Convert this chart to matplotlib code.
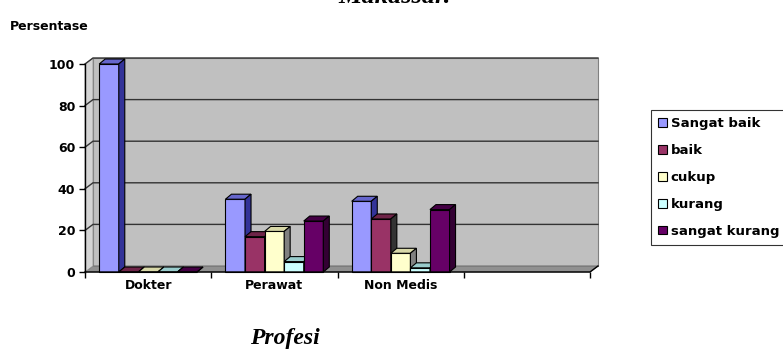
import numpy as np
import matplotlib
matplotlib.use("Agg")
import matplotlib.pyplot as plt
from matplotlib.patches import Polygon, Patch

# Data
kategori = ["Dokter", "Perawat", "Non Medis"]
seri = ["Sangat baik", "baik", "cukup", "kurang", "sangat kurang"]
sangat_baik = [100, 35, 34]
baik = [0, 17, 25.5]
cukup = [0, 19.5, 9]
kurang = [0, 5, 2]
sangat_kurang = [0, 24.5, 30]
nilai = [sangat_baik, baik, cukup, kurang, sangat_kurang]
yticks = [0, 20, 40, 60, 80, 100]

# Excel style colours: front, top, side
warna_depan = ["#9999FF", "#993366", "#FFFFCC", "#CCFFFF", "#660066"]
warna_atas = ["#6666CC", "#6E2448", "#D8D8A8", "#99CCCC", "#440044"]
warna_sisi = ["#333399", "#333333", "#808080", "#99CCCC", "#330033"]

W, H = 783, 349
plt.rcParams["font.family"] = ["DejaVu Sans"]
fig = plt.figure(figsize=(W / 100, H / 100), dpi=100)

# axis: x 0..4 -> px 85..590, y 0..100 -> px 272..64
px_x = (590 - 85) / 4.0
px_y = (272 - 64) / 100.0
dx, dy = 8 / px_x, 6 / px_y  # wall depth
bdx, bdy = 6 / px_x, 5 / px_y  # bar depth
ax = fig.add_axes([85 / W, 1 - 272 / H, (590 - 85) / W, (272 - 64) / H])
ax.set_xlim(0, 4)
ax.set_ylim(0, 100)
for s in ax.spines.values():
    s.set_visible(False)

# dinding belakang, lantai, dinding kiri
ax.add_patch(Polygon([(dx, dy), (4 + dx, dy), (4 + dx, 100 + dy), (dx, 100 + dy)],
                     closed=True, facecolor="#C0C0C0", edgecolor="#808080", lw=0.8,
                     clip_on=False, zorder=0))
ax.add_patch(Polygon([(0, 0), (4, 0), (4 + dx, dy), (dx, dy)], closed=True,
                     facecolor="#909090", edgecolor="#606060", lw=0.6,
                     clip_on=False, zorder=0.5))
ax.add_patch(Polygon([(0, 0), (dx, dy), (dx, 100 + dy), (0, 100)], closed=True,
                     facecolor="#D4D4D4", edgecolor="#909090", lw=0.6,
                     clip_on=False, zorder=0.5))
for v in yticks[1:]:
    ax.plot([0, dx, 4 + dx], [v, v + dy, v + dy], color="#333333", lw=1.0,
            clip_on=False, zorder=1)

# batang 3D
w = 0.155
for i in range(len(kategori)):
    for j in range(len(seri)):
        x0 = i + 0.5 - 2.5 * w + j * w
        h = nilai[j][i]
        z = 2 + i * 10 + j
        ax.bar(x0, h, width=w, align="edge", color=warna_depan[j],
               edgecolor="black", lw=0.8, zorder=z, clip_on=False)
        ax.add_patch(Polygon([(x0, h), (x0 + w, h), (x0 + w + bdx, h + bdy),
                              (x0 + bdx, h + bdy)], closed=True,
                             facecolor=warna_atas[j], edgecolor="black", lw=0.8,
                             zorder=z, clip_on=False))
        ax.add_patch(Polygon([(x0 + w, 0), (x0 + w + bdx, bdy), (x0 + w + bdx, h + bdy),
                              (x0 + w, h)], closed=True,
                             facecolor=warna_sisi[j], edgecolor="black", lw=0.8,
                             zorder=z, clip_on=False))

# sumbu depan
ax.plot([0, 0], [0, 100], color="black", lw=1.0, clip_on=False, zorder=50)
ax.plot([0, 4, 4 + dx], [0, 0, dy], color="black", lw=1.0, clip_on=False, zorder=50)
ax.set_yticks(yticks)
ax.set_yticklabels([str(t) for t in yticks], fontweight="bold", fontsize=9)
ax.tick_params(axis="y", length=4, width=1, pad=3)
ax.set_xticks([0, 1, 2, 3, 4])
ax.set_xticklabels([])
ax.set_xticks([i + 0.5 for i in range(len(kategori))], minor=True)
ax.set_xticklabels(kategori, minor=True, fontweight="bold", fontsize=9)
ax.tick_params(axis="x", which="major", length=4, width=1)
ax.tick_params(axis="x", which="minor", length=0, pad=5)

fig.text(10 / W, 1 - 30 / H, "Persentase", fontweight="bold", fontsize=9,
         va="baseline", ha="left")
fig.text(285 / W, 1 - 344 / H, "Profesi", family="Liberation Serif",
         fontweight="bold", fontstyle="italic", fontsize=17, ha="center", va="baseline")
fig.text(395 / W, 1 - 3 / H, "Makassar.", family="Liberation Serif",
         fontweight="bold", fontstyle="italic", fontsize=19, ha="center", va="baseline")

handles = [Patch(facecolor=c, edgecolor="black", lw=0.8) for c in warna_depan]
leg = fig.legend(handles, seri, loc="upper left", bbox_to_anchor=(651 / W, 1 - 110 / H),
                 prop={"weight": "bold", "size": 9.5}, frameon=True, fancybox=False,
                 handlelength=0.65, handleheight=0.65, handletextpad=0.3,
                 labelspacing=1.05, borderpad=0.55, borderaxespad=0)
leg.get_frame().set_edgecolor("black")
leg.get_frame().set_linewidth(0.8)

fig.savefig("out.png", dpi=100)
